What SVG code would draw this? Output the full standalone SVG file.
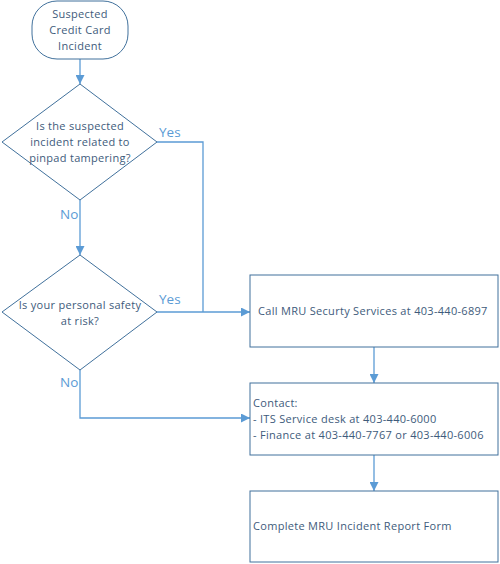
<svg xmlns="http://www.w3.org/2000/svg" width="500" height="564" viewBox="0 0 500 564">
<defs>
<marker id="arr" viewBox="0 0 10 10" refX="10" refY="5" markerWidth="9" markerHeight="9" markerUnits="userSpaceOnUse" orient="auto">
<path d="M0,0 L10,5 L0,10 z" fill="#5b9bd5"/>
</marker>
<style>
.shape{fill:#ffffff;stroke:#41719c;stroke-width:1}
.txt{font-family:"Open Sans","Liberation Sans",sans-serif;font-size:11px;letter-spacing:0.3px;fill:#3e5b7b}
.lbl{font-family:"Open Sans","Liberation Sans",sans-serif;font-size:13.5px;fill:#5b9bd5}
.conn{fill:none;stroke:#5b9bd5;stroke-width:1.3}
</style>
</defs>
<rect width="500" height="564" fill="#ffffff"/>
<g id="connectors">
<line class="conn" x1="80" y1="59" x2="80" y2="84" marker-end="url(#arr)"/>
<line class="conn" x1="80" y1="200" x2="80" y2="255" marker-end="url(#arr)"/>
<polyline class="conn" points="157,142 203,142 203,312"/>
<line class="conn" x1="157" y1="312" x2="250" y2="312" marker-end="url(#arr)"/>
<polyline class="conn" points="80,370 80,418 250,418" marker-end="url(#arr)"/>
<line class="conn" x1="374" y1="347" x2="374" y2="383" marker-end="url(#arr)"/>
<line class="conn" x1="374" y1="455" x2="374" y2="491" marker-end="url(#arr)"/>
<text class="lbl" x="159" y="137">Yes</text>
<text class="lbl" x="159" y="304">Yes</text>
<text class="lbl" x="60" y="219">No</text>
<text class="lbl" x="60" y="387">No</text>
</g>
<g id="start">
<rect class="shape" x="32" y="1" width="96" height="58" rx="25" ry="25"/>
<text class="txt" text-anchor="middle" x="80" y="18">Suspected</text>
<text class="txt" text-anchor="middle" x="80" y="34">Credit Card</text>
<text class="txt" text-anchor="middle" x="80" y="50">Incident</text>
</g>
<g id="decision1">
<polygon class="shape" points="80,84 157,142 80,200 2,142"/>
<text class="txt" text-anchor="middle" x="80" y="130">Is the suspected</text>
<text class="txt" text-anchor="middle" x="80" y="146">incident related to</text>
<text class="txt" text-anchor="middle" x="80" y="162">pinpad tampering?</text>
</g>
<g id="decision2">
<polygon class="shape" points="80,255 157,312 80,370 2,312"/>
<text class="txt" text-anchor="middle" x="80" y="309">Is your personal safety</text>
<text class="txt" text-anchor="middle" x="80" y="325">at risk?</text>
</g>
<g id="call">
<rect class="shape" x="250" y="275" width="248" height="72"/>
<text class="txt" x="258" y="315">Call MRU Securty Services at 403-440-6897</text>
</g>
<g id="contact">
<rect class="shape" x="250" y="383" width="248" height="72"/>
<text class="txt" x="253" y="407">Contact:</text>
<text class="txt" x="253" y="423">- ITS Service desk at 403-440-6000</text>
<text class="txt" x="253" y="439">- Finance at 403-440-7767 or 403-440-6006</text>
</g>
<g id="report">
<rect class="shape" x="250" y="491" width="248" height="71"/>
<text class="txt" x="253" y="530">Complete MRU Incident Report Form</text>
</g>
</svg>
